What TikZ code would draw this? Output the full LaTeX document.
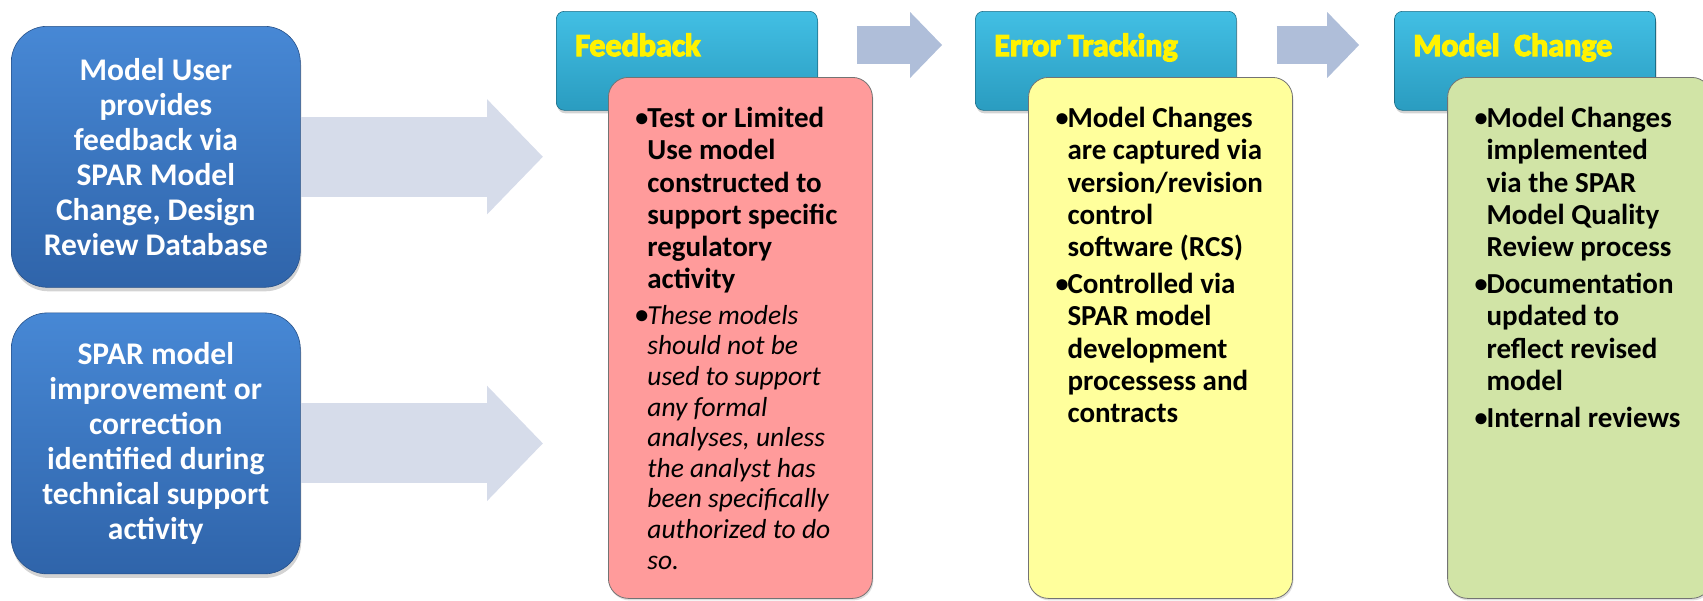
\documentclass[tikz,border=0pt]{standalone}
\usepackage{graphicx}
\usepackage{fontspec}
\setmainfont{Carlito}
\newfontfamily\heavyfont{Carlito}[UprightFont={* Bold}, FakeBold=4]
\usetikzlibrary{arrows.meta, positioning, calc, shadows}

\definecolor{bluetop}{HTML}{4788D5}
\definecolor{bluebot}{HTML}{2F64AA}
\definecolor{hdrtop}{HTML}{42BFE4}
\definecolor{hdrbot}{HTML}{2A9CC0}
\definecolor{pinkfill}{HTML}{FF9B9B}
\definecolor{yellowfill}{HTML}{FFFF9C}
\definecolor{greenfill}{HTML}{D1E4A6}
\definecolor{flowgray}{HTML}{D6DCEA}
\definecolor{stepblue}{HTML}{AFBED9}

% bullet with hanging indent for the panel lists
\newcommand{\bpoint}{\par\hangindent=10pt\hangafter=1\noindent\makebox[10pt][l]{\hspace*{-2pt}\raisebox{1pt}{\scalebox{0.9}{\textbullet}}}}
\newcommand{\panelbox}[1]{\parbox[t][521pt][t]{264pt}{\leftskip=29pt\rightskip=0pt plus 1fil\parfillskip=0pt plus 1fil\setlength{\parskip}{5pt}\vspace*{25pt}#1}}

\begin{document}
\begin{tikzpicture}[x=1pt, y=-1pt,
  source/.style={
    rounded corners=36pt,
    top color=bluetop, bottom color=bluebot,
    draw=bluebot!80!black, line width=0.6pt,
    minimum width=289pt, minimum height=261pt,
    align=center, text=white,
    font=\fontsize{31.5}{35}\selectfont\bfseries,
    drop shadow={opacity=0.35, shadow xshift=1pt, shadow yshift=-4pt}
  },
  header/.style={
    rounded corners=8pt,
    top color=hdrtop, bottom color=hdrbot,
    draw=hdrbot!70!black, line width=0.6pt,
    minimum width=261pt, minimum height=99pt,
    anchor=north west,
    drop shadow={opacity=0.35, shadow xshift=1pt, shadow yshift=-3pt}
  },
  title/.style={anchor=base west, text=yellow, inner sep=0pt,
    font=\heavyfont\fontsize{32}{36}\selectfont},
  panel/.style={
    rounded corners=20pt,
    draw=black!55, line width=0.8pt,
    inner sep=0pt, anchor=north west,
    font=\fontsize{29}{32.2}\selectfont\bfseries,
    drop shadow={opacity=0.25, shadow xshift=1pt, shadow yshift=-2pt}
  },
  flow/.style={-{Triangle[length=56pt, width=112pt]}, line width=80pt, draw=flowgray},
  stepline/.style={-{Triangle[length=32pt, width=64pt]}, line width=38pt, draw=stepblue},
  node distance=157.5pt
  ]

\useasboundingbox (0,0) rectangle (1703,600);

% Stage headers
\node[header] (fbhead) at (556,11) {};
\node[header, right=of fbhead] (ethead) {};
\node[header, right=of ethead] (mchead) {};

\node[title] (fbtitle) at ($(fbhead.north west)+(19,45)$) {Feedback};
\node[title] (ettitle) at ($(ethead.north west)+(19,45)$) {Error Tracking};
\node[title] (mctitle) at ($(mchead.north west)+(19,45)$) {Model\ \ Change};

% Arrows between the stages
\draw[stepline] ($(fbhead.east |- fbtitle.base)+(39,-11)$) -- ($(ethead.west |- fbtitle.base)+(-33,-11)$);
\draw[stepline] ($(ethead.east |- ettitle.base)+(40,-11)$) -- ($(mchead.west |- ettitle.base)+(-35,-11)$);

% Stage details
\node[panel, fill=pinkfill] (fbbody) at ($(fbhead.north west)+(52,66)$) {\panelbox{%
  \bpoint Test or Limited\\Use model\\constructed to\\support specific\\regulatory\\activity
  \bpoint{\mdseries\itshape\fontsize{27.5}{30.6}\selectfont These models\\should not be\\used to support\\any formal\\analyses, unless\\the analyst has\\been specifically\\authorized to do\\so.\par}}};
\node[panel, fill=yellowfill] (etbody) at ($(ethead.north west)+(53,66)$) {\panelbox{%
  \bpoint Model Changes\\are captured via\\version/revision\\control\\software (RCS)
  \bpoint Controlled via\\SPAR model\\development\\processess and\\contracts}};
\node[panel, fill=greenfill] (mcbody) at ($(mchead.north west)+(53,66)$) {\panelbox{%
  \bpoint Model Changes\\implemented\\via the SPAR\\Model Quality\\Review process
  \bpoint Documentation\\updated to\\reflect revised\\model
  \bpoint Internal reviews}};

% Inputs
\node[source, anchor=north west] (user) at (11,26) {Model User\\provides\\feedback via\\SPAR Model\\Change, Design\\Review Database};
\node[source, below=25pt of user] (support) {SPAR model\\improvement or\\correction\\identified during\\technical support\\activity};

\draw[flow] (user.east) -- ($(fbbody.west |- user.east)+(-65,0)$);
\draw[flow] (support.east) -- ($(fbbody.west |- support.east)+(-65,0)$);

\end{tikzpicture}
\end{document}
